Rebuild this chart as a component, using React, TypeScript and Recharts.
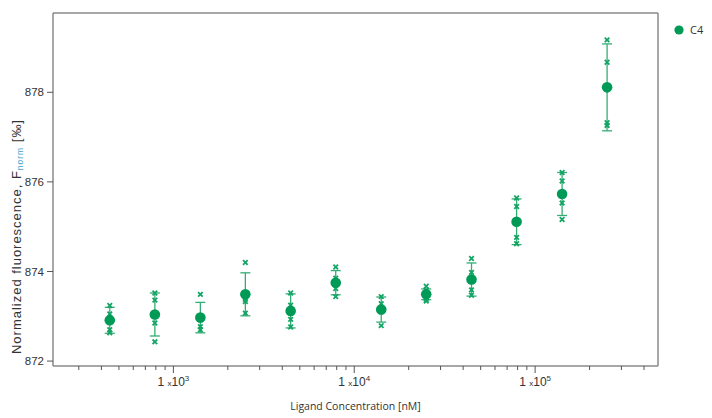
import React from 'react';
import { ScatterChart, Scatter, XAxis, YAxis, ErrorBar, ReferenceLine } from 'recharts';

// ligand concentrations [nM], 1:1.78 dilution series
const concentrations = [445, 790, 1410, 2500, 4450, 7900, 14100, 25000, 44500, 79000, 141000, 250000];
const means = [872.91, 873.04, 872.97, 873.49, 873.12, 873.75, 873.15, 873.49, 873.82, 875.11, 875.73, 878.11];
const errors = [0.29, 0.48, 0.34, 0.48, 0.38, 0.27, 0.28, 0.12, 0.37, 0.51, 0.48, 0.97];

// single replicates
const rep1 = [873.24, 873.52, 873.49, 874.2, 873.52, 874.1, 873.44, 873.67, 874.29, 875.64, 876.21, 879.17];
const rep2 = [873.05, 873.36, 872.92, 873.38, 873.25, 873.85, 873.28, 873.58, 873.98, 875.45, 876.02, 878.67];
const rep3 = [872.7, 872.85, 872.77, 873.33, 872.93, 873.62, 873.1, 873.38, 873.59, 874.76, 875.53, 877.32];
const rep4 = [872.63, 872.43, 872.7, 873.07, 872.76, 873.44, 872.79, 873.34, 873.47, 874.62, 875.16, 877.26];

const xTicks = [
  300, 400, 500, 600, 700, 800, 900,
  1000, 2000, 3000, 4000, 5000, 6000, 7000, 8000, 9000,
  10000, 20000, 30000, 40000, 50000, 60000, 70000, 80000, 90000,
  100000, 200000, 300000, 400000,
];
const majorTicks = [1000, 10000, 100000];
const yTicks = [872, 874, 876, 878];

const xDomain = [216, 478000];
const yDomain = [871.89, 879.77];

const green = '#009a57';
const greenLight = '#14a565';
const barColor = '#33ad74';
const axisColor = '#8a8a8a';
const arial = 'Arial, Liberation Sans, sans-serif';

const meanData = concentrations.map((c, i) => ({ x: c, y: means[i], err: errors[i] }));
const repData = concentrations.flatMap((c, i) =>
  [rep1[i], rep2[i], rep3[i], rep4[i]].map((v) => ({ x: c, y: v }))
);

const XTick = (props: any) => {
  const { x, y, payload } = props;
  const major = majorTicks.includes(payload.value);
  const exp = Math.round(Math.log10(payload.value));
  return (
    <g>
      <line x1={x} x2={x} y1={y} y2={y + (major ? 7 : 4)} stroke="#555" strokeWidth={1} />
      {major && (
        <text x={x} y={y + 20} textAnchor="middle" fontSize={12} fill="#333" fontFamily={arial}>
          1 <tspan fontSize={8}>x</tspan>10
          <tspan fontSize={8} dy={-5}>{exp}</tspan>
        </text>
      )}
    </g>
  );
};

const Cross = (props: any) => {
  const { cx, cy } = props;
  const s = 2.3;
  return (
    <g stroke={greenLight} strokeWidth={1.8}>
      <line x1={cx - s} y1={cy - s} x2={cx + s} y2={cy + s} />
      <line x1={cx - s} y1={cy + s} x2={cx + s} y2={cy - s} />
    </g>
  );
};

const Dot = (props: any) => <circle cx={props.cx} cy={props.cy} r={5.3} fill={green} />;

const YLabel = () => (
  <text
    transform="translate(21,237) rotate(-90)"
    textAnchor="middle"
    fontSize={13}
    fill="#333"
    fontFamily={arial}
    textLength={234}
    lengthAdjust="spacing"
  >
    Normalized fluorescence, F
    <tspan fontSize={8.5} fill="#3d9fd0" dy={2}>norm</tspan>
    <tspan dy={-2}> [‰]</tspan>
  </text>
);

export default function App() {
  return (
    <div style={{ position: 'absolute', left: 0, top: 0, width: 712, height: 418, background: '#fff' }}>
      <ScatterChart width={712} height={418} margin={{ top: 13, right: 54, bottom: 0, left: 0 }}>
        <XAxis
          type="number"
          dataKey="x"
          scale="log"
          domain={xDomain}
          allowDataOverflow
          ticks={xTicks}
          interval={0}
          tickSize={0}
          tickMargin={0}
          tickLine={false}
          tick={<XTick />}
          height={52}
          axisLine={{ stroke: axisColor, strokeWidth: 1.5 }}
          label={{
            value: 'Ligand Concentration [nM]',
            position: 'insideBottom',
            offset: 8,
            fontSize: 10.5,
            fill: '#333',
            fontFamily: 'Open Sans, Noto Sans',
          }}
        />
        <YAxis
          type="number"
          dataKey="y"
          domain={yDomain}
          allowDataOverflow
          ticks={yTicks}
          interval={0}
          width={53}
          tickSize={6}
          tickMargin={3}
          tickLine={{ stroke: '#555' }}
          axisLine={{ stroke: axisColor, strokeWidth: 1.5 }}
          tick={{ fontSize: 11.5, fill: '#333', fontFamily: arial }}
          label={<YLabel />}
        />
        <ReferenceLine y={yDomain[1]} stroke={axisColor} strokeWidth={1.5} ifOverflow="visible" />
        <ReferenceLine x={xDomain[1]} stroke={axisColor} strokeWidth={1.5} ifOverflow="visible" />
        <Scatter data={repData} shape={<Cross />} isAnimationActive={false} />
        <Scatter data={meanData} shape={<Dot />} isAnimationActive={false}>
          <ErrorBar dataKey="err" direction="y" width={5} stroke={barColor} strokeWidth={1.3} />
        </Scatter>
      </ScatterChart>
      <div
        style={{
          position: 'absolute',
          left: 674,
          top: 22,
          display: 'flex',
          alignItems: 'center',
          fontFamily: 'Open Sans, Noto Sans',
          fontSize: 11,
          color: '#333',
        }}
      >
        <svg width={10} height={10} style={{ marginRight: 6 }}>
          <circle cx={5} cy={5} r={4.6} fill={green} />
        </svg>
        C4
      </div>
    </div>
  );
}
